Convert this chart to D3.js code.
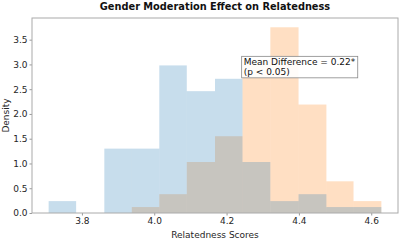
<!DOCTYPE html>
<html>
<head>
<meta charset="utf-8">
<script src="https://cdn.jsdelivr.net/npm/d3@7"></script>
<style>
  body { margin: 0; background: #fff; }
  svg { display: block; font-family: "DejaVu Sans", sans-serif; }
</style>
</head>
<body>
<div id="chart"></div>
<script>
// histogram bins (shared edges) and densities
var binEdges = [3.708, 3.784, 3.862, 3.938, 4.014, 4.090, 4.168, 4.244, 4.321, 4.399, 4.476, 4.551, 4.628];
var blueDensity = [0.24, 0, 1.30, 1.30, 2.98, 2.46, 2.71, 1.03, 0.24, 0.38, 0.12, 0.12];
var orangeDensity = [0, 0, 0, 0.12, 0.38, 1.03, 1.55, 3.10, 3.75, 2.19, 0.64, 0.24];
var xTicks = [3.8, 4.0, 4.2, 4.4, 4.6];
var yTicks = [0, 0.5, 1.0, 1.5, 2.0, 2.5, 3.0, 3.5];
var titleText = "Gender Moderation Effect on Relatedness";
var annLines = ["Mean Difference = 0.22*", "(p < 0.05)"];
var annPos = [4.25, 2.8];

var W = 400, H = 241;
var m = {left: 32, right: 2, top: 18, bottom: 28};

var svg = d3.select("#chart").append("svg").attr("width", W).attr("height", H);

// 5% margins on x like matplotlib, y top = max * 1.05
var xPad = (binEdges[binEdges.length - 1] - binEdges[0]) * 0.05;
var x = d3.scaleLinear()
    .domain([binEdges[0] - xPad, binEdges[binEdges.length - 1] + xPad])
    .range([m.left, W - m.right]);
var yMax = d3.max(blueDensity.concat(orangeDensity)) * 1.05;
var y = d3.scaleLinear().domain([0, yMax]).range([H - m.bottom, m.top]);

function bars(vals, color){
    var rows = vals.map(function(v, i){ return {x0: binEdges[i], x1: binEdges[i + 1], v: v}; })
        .filter(function(d){ return d.v > 0; });
    svg.append("g").selectAll("rect").data(rows).enter().append("rect")
        .attr("x", function(d){ return x(d.x0); })
        .attr("width", function(d){ return x(d.x1) - x(d.x0); })
        .attr("y", function(d){ return y(d.v); })
        .attr("height", function(d){ return y(0) - y(d.v); })
        .attr("fill", color)
        .attr("fill-opacity", 0.25);
}
// orange goes under, blue on top -> grey where they overlap
bars(orangeDensity, "#ff7f0e");
bars(blueDensity, "#1f77b4");

// axes
var xAxis = svg.append("g").attr("transform", "translate(0," + (H - m.bottom) + ")")
    .call(d3.axisBottom(x).tickValues(xTicks).tickFormat(d3.format(".1f")).tickSize(2.5).tickPadding(2));
var yAxis = svg.append("g").attr("transform", "translate(" + m.left + ",0)")
    .call(d3.axisLeft(y).tickValues(yTicks).tickFormat(d3.format(".1f")).tickSize(2.5).tickPadding(2));
[xAxis, yAxis].forEach(function(a){
    a.select(".domain").remove();
    a.selectAll(".tick line").attr("stroke", "#999");
    a.selectAll("text").attr("font-size", 9).attr("fill", "#262626").attr("font-family", "DejaVu Sans");
});

// frame
svg.append("rect")
    .attr("x", m.left).attr("y", m.top)
    .attr("width", W - m.right - m.left).attr("height", H - m.bottom - m.top)
    .attr("fill", "none").attr("stroke", "#aaa").attr("stroke-width", 1);

// title and labels
svg.append("text").text(titleText)
    .attr("x", (m.left + W - m.right) / 2).attr("y", 10)
    .attr("text-anchor", "middle").attr("font-weight", "bold").attr("font-size", 9.8).attr("fill", "#111");
svg.append("text").text("Relatedness Scores")
    .attr("x", (m.left + W - m.right) / 2).attr("y", 238)
    .attr("text-anchor", "middle").attr("font-size", 9).attr("fill", "#262626");
svg.append("text").text("Density")
    .attr("transform", "translate(8.5," + ((m.top + H - m.bottom) / 2) + ") rotate(-90)")
    .attr("text-anchor", "middle").attr("font-size", 9).attr("fill", "#262626");

// annotation box
var ann = svg.append("g");
var bx = x(annPos[0]), by = y(annPos[1]);
var box = ann.append("rect");
var lineH = 9.5;
var txt = ann.append("text").attr("font-size", 9).attr("fill", "#111");
annLines.forEach(function(l, i){
    txt.append("tspan").text(l).attr("x", bx - 1).attr("y", by + 0.5 - (annLines.length - 1 - i) * lineH);
});
var bb = txt.node().getBBox();
box.attr("x", bb.x - 2).attr("y", bb.y - 1).attr("width", bb.width + 4).attr("height", bb.height + 2)
    .attr("fill", "#fff").attr("fill-opacity", 0.9).attr("stroke", "#888").attr("stroke-width", 0.8);
</script>
</body>
</html>
